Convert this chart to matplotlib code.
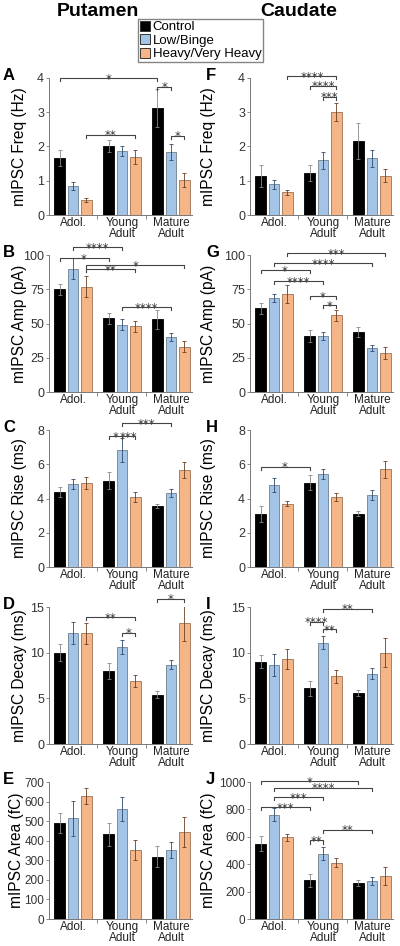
import matplotlib
matplotlib.use('Agg')
import matplotlib.pyplot as plt
from matplotlib.patches import Patch
import numpy as np

plt.rcParams['font.family'] = ['Liberation Sans', 'DejaVu Sans']

# Data - means and SEM per group (Adol., Young Adult, Mature Adult)
ages = ['Adol.', 'Young\nAdult', 'Mature\nAdult']
groups = ['Control', 'Low/Binge', 'Heavy/Very Heavy']

# Putamen
freq_put = [[1.66, 2.01, 3.12], [0.85, 1.87, 1.84], [0.44, 1.70, 1.02]]
freq_put_err = [[0.24, 0.18, 0.55], [0.12, 0.15, 0.23], [0.05, 0.20, 0.20]]
amp_put = [[75, 54, 53], [90, 49, 40], [77, 48, 33]]
amp_put_err = [[4, 4, 7], [7.5, 4, 3], [7.5, 4, 4]]
rise_put = [[4.38, 5.03, 3.57], [4.85, 6.84, 4.33], [4.9, 4.1, 5.67]]
rise_put_err = [[0.3, 0.5, 0.1], [0.3, 0.7, 0.25], [0.35, 0.3, 0.45]]
decay_put = [[10.0, 8.0, 5.4], [12.2, 10.6, 8.7], [12.1, 6.9, 13.3]]
decay_put_err = [[0.9, 0.85, 0.35], [1.2, 0.8, 0.5], [1.1, 0.7, 2.0]]
area_put = [[491, 432, 319], [515, 563, 353], [628, 353, 444]]
area_put_err = [[50, 60, 53], [90, 60, 39], [41, 50, 76]]

# Caudate
freq_cau = [[1.14, 1.22, 2.16], [0.90, 1.60, 1.65], [0.66, 3.00, 1.15]]
freq_cau_err = [[0.32, 0.24, 0.53], [0.13, 0.25, 0.25], [0.08, 0.26, 0.18]]
amp_cau = [[61, 41, 44], [68.6, 41, 32], [71.5, 56, 28.5]]
amp_cau_err = [[4, 4.5, 3.5], [3, 3, 2], [6.5, 4, 4.5]]
rise_cau = [[3.1, 4.93, 3.1], [4.8, 5.45, 4.2], [3.7, 4.1, 5.7]]
rise_cau_err = [[0.45, 0.45, 0.15], [0.4, 0.3, 0.3], [0.15, 0.25, 0.5]]
decay_cau = [[9.0, 6.1, 5.6], [8.7, 11.1, 7.7], [9.3, 7.4, 10.0]]
decay_cau_err = [[0.7, 0.8, 0.3], [1.2, 0.7, 0.6], [1.1, 0.7, 1.6]]
area_cau = [[551, 282, 260], [762, 478, 277], [596, 412, 314]]
area_cau_err = [[52, 49, 22], [47, 49, 29], [25, 32, 68]]

# significance brackets: (age1, group1, age2, group2, height, stars)
sig_A = [(0, 0, 2, 0, 4.0, '*'), (0, 2, 1, 2, 2.34, '**'), (2, 0, 2, 1, 3.74, '*'), (2, 1, 2, 2, 2.31, '*')]
sig_B = [(0, 1, 1, 1, 105.8, '****'), (0, 0, 1, 0, 97.8, '*'), (0, 2, 2, 2, 92.7, '*'),
         (0, 2, 1, 2, 89.8, '**'), (1, 1, 2, 1, 62, '****')]
sig_C = [(1, 1, 2, 1, 8.4, '***'), (1, 0, 1, 1, 7.65, '*'), (1, 1, 1, 2, 7.65, '***')]
sig_D = [(0, 2, 1, 2, 13.9, '**'), (1, 1, 1, 2, 12.2, '*'), (2, 0, 2, 2, 15.9, '*')]
sig_E = []
sig_F = [(0, 2, 1, 2, 4.05, '****'), (1, 0, 1, 2, 3.77, '****'), (1, 1, 1, 2, 3.45, '***')]
sig_G = [(0, 2, 2, 2, 101.5, '***'), (0, 1, 2, 1, 94, '****'), (0, 0, 1, 0, 89, '*'),
         (0, 1, 1, 1, 81, '****'), (1, 0, 1, 2, 70, '*'), (1, 1, 1, 2, 63.5, '*')]
sig_H = [(0, 0, 1, 0, 5.85, '*')]
sig_I = [(1, 1, 2, 1, 14.8, '**'), (1, 0, 1, 1, 13.4, '****'), (1, 1, 1, 2, 12.6, '**')]
sig_J = [(0, 0, 2, 0, 1005, '*'), (0, 1, 2, 1, 957, '****'), (0, 1, 1, 1, 888, '***'),
         (0, 0, 1, 0, 815, '***'), (1, 1, 2, 1, 653, '**'), (1, 0, 1, 1, 573, '**')]

ylabels = ['mIPSC Freq (Hz)', 'mIPSC Amp (pA)', 'mIPSC Rise (ms)', 'mIPSC Decay (ms)', 'mIPSC Area (fC)']
yticks = [[0, 1, 2, 3, 4], [0, 25, 50, 75, 100], [0, 2, 4, 6, 8], [0, 5, 10, 15],
          [0, 100, 200, 300, 400, 500, 600, 700]]
yticks_J = [0, 200, 400, 600, 800, 1000]

colors = ['#000000', '#a3c4e6', '#f5b587']
edge_cols = ['#000000', '#6f7f90', '#9a7358']
err_cols = ['#888888', '#2f4a6b', '#6b3f22']

fig = plt.figure(figsize=(4, 9.46), dpi=100)

W = 0.22
STEP = 0.275

def xpos(age, grp):
    return age + (grp - 1) * STEP

def draw_panel(ax, means, errs, ticks, ylabel, sigs, letter, label_px, letter_px, tsize):
    x = np.arange(3)
    for k in range(3):
        ax.bar(x + (k - 1) * STEP, means[k], W, color=colors[k], edgecolor=edge_cols[k], linewidth=0.6, zorder=2)
        ax.errorbar(x + (k - 1) * STEP, means[k], yerr=errs[k], fmt='none', ecolor=err_cols[k],
                    elinewidth=0.6, capsize=1.3, capthick=0.6, zorder=3)
    top = ticks[-1]
    ax.set_ylim(0, top)
    ax.set_xlim(-0.49, 2.43)
    ax.set_yticks(ticks)
    ax.set_xticks(x)
    ax.set_xticklabels(ages, fontsize=8.5, linespacing=0.9, color='#222222')
    ax.set_xticks([0.5, 1.5], minor=True)
    ax.tick_params(axis='x', which='major', length=0, pad=1.5)
    ax.tick_params(axis='x', which='minor', length=3, color='#777777', width=0.6)
    ax.tick_params(axis='y', length=2.5, width=0.6, color='#777777', labelsize=tsize,
                   labelcolor='#333333', pad=1)
    for s in ['top', 'right']:
        ax.spines[s].set_visible(False)
    for s in ['left', 'bottom']:
        ax.spines[s].set_color('#777777')
        ax.spines[s].set_linewidth(0.7)
    # brackets
    drop = top * 0.022
    for a1, g1, a2, g2, h, stars in sigs:
        x1, x2 = xpos(a1, g1), xpos(a2, g2)
        ax.plot([x1, x1, x2, x2], [h - drop, h, h, h - drop], color='#444444', lw=0.8,
                clip_on=False, zorder=4)
        ax.annotate(stars, xy=((x1 + x2) / 2, h), xytext=(0, -3.3), textcoords='offset points',
                    ha='center', va='baseline', fontsize=8.5, color='#333333',
                    family='DejaVu Sans', annotation_clip=False)
    # ylabel and panel letter in figure coordinates
    pos = ax.get_position()
    fig.text(label_px / 400, pos.y0 + pos.height / 2, ylabel, rotation=90,
             ha='center', va='center', fontsize=11.2)
    fig.text(letter_px / 400, pos.y1 + 10 / 946, letter, ha='left', va='top',
             fontsize=12, fontweight='bold')

bottoms_px = [215, 392, 567, 744, 919]
put = [(freq_put, freq_put_err), (amp_put, amp_put_err), (rise_put, rise_put_err),
       (decay_put, decay_put_err), (area_put, area_put_err)]
cau = [(freq_cau, freq_cau_err), (amp_cau, amp_cau_err), (rise_cau, rise_cau_err),
       (decay_cau, decay_cau_err), (area_cau, area_cau_err)]
sig_put = [sig_A, sig_B, sig_C, sig_D, sig_E]
sig_cau = [sig_F, sig_G, sig_H, sig_I, sig_J]

for i in range(5):
    b = 1 - bottoms_px[i] / 946
    h = 137 / 946
    area = (i == 4)
    tsize = 8.5 if area else 9
    ax_l = fig.add_axes([49 / 400, b, 143 / 400, h])
    draw_panel(ax_l, put[i][0], put[i][1], yticks[i], ylabels[i], sig_put[i], 'ABCDE'[i],
               17 if area else 20, 3, tsize)
    ax_r = fig.add_axes([250 / 400, b, 143 / 400, h])
    t = yticks_J if area else yticks[i]
    draw_panel(ax_r, cau[i][0], cau[i][1], t, ylabels[i], sig_cau[i], 'FGHIJ'[i],
               209, 206, tsize)

# Titles
fig.text(98 / 400, 1 - 12 / 946, 'Putamen', ha='center', va='center', fontsize=14, fontweight='bold')
fig.text(299 / 400, 1 - 12 / 946, 'Caudate', ha='center', va='center', fontsize=14, fontweight='bold')

# Legend
handles = [Patch(facecolor=colors[k], edgecolor='#333333', linewidth=0.7) for k in range(3)]
leg = fig.legend(handles, groups, loc='upper left', bbox_to_anchor=(138 / 400, 1 - 19 / 946),
                 fontsize=9.5, frameon=True, fancybox=False, borderpad=0.15, handlelength=0.75,
                 handleheight=0.75, handletextpad=0.2, labelspacing=0.08, borderaxespad=0)
leg.get_frame().set_edgecolor('#666666')
leg.get_frame().set_linewidth(1.0)

plt.savefig('out.png', dpi=100)
